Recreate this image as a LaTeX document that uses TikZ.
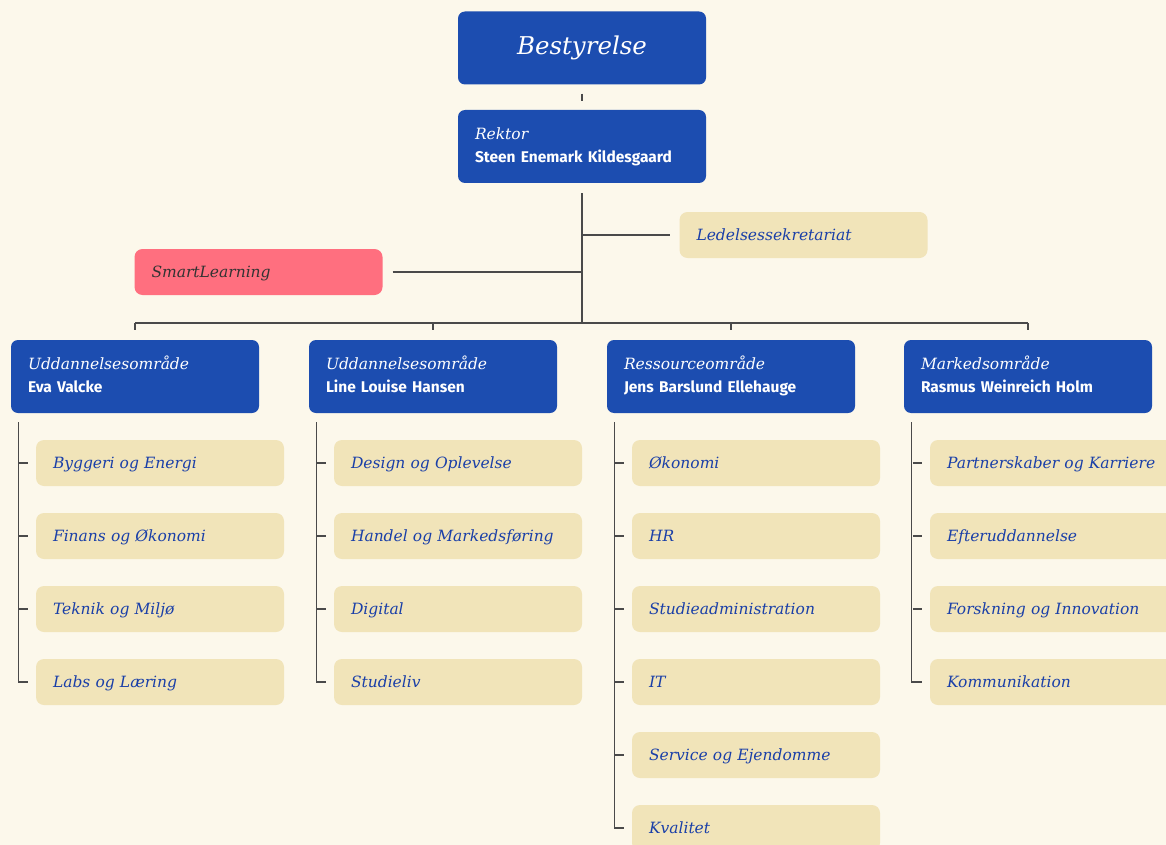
\documentclass[tikz,border=0pt]{standalone}
\usepackage{fontspec}
\setmainfont{DejaVu Serif}
\newfontfamily\namefont{Fira Sans}
\definecolor{bgC}{HTML}{FCF8EB}
\definecolor{blueC}{HTML}{1C4DB0}
\definecolor{tanC}{HTML}{F1E4B9}
\definecolor{pinkC}{HTML}{FF6F7F}
\definecolor{txtB}{HTML}{1A3FA8}
\definecolor{lineC}{HTML}{4A4A4A}
\tikzset{
  bluebox/.style={fill=blueC, rounded corners=7pt, minimum width=248pt, minimum height=73pt,
    text width=214pt, inner xsep=17pt, inner ysep=0pt, align=left, text=white,
    font=\fontsize{15.5}{23.5}\selectfont},
  tanbox/.style={fill=tanC, rounded corners=8pt, minimum width=248pt, minimum height=46pt,
    text width=214pt, inner xsep=17pt, inner ysep=0pt, align=left, text=txtB,
    text height=11pt, text depth=0pt,
    font=\fontsize{15.5}{18}\selectfont\itshape},
  pinkbox/.style={tanbox, fill=pinkC, text=black!80},
  conn/.style={draw=lineC, line width=1.1pt},
}
\newcommand{\twol}[2]{\strut{\itshape #1}\\\strut{\namefont\bfseries\fontsize{15.5}{23.5}\selectfont #2}}
\begin{document}
\begin{tikzpicture}[x=1pt,y=-1pt]
\fill[bgC] (0,0) rectangle (1166,845);
\useasboundingbox (0,0) rectangle (1166,845);

\node[bluebox, align=center, text width=214pt, font=\fontsize{24.5}{28}\selectfont\itshape] (best) at (582,48) {Bestyrelse};
\node[bluebox] (rek) at (582,146.5) {\twol{Rektor}{Steen Enemark Kildesgaard}};
\node[tanbox] (led) at (803.5,235) {Ledelsessekretariat};
\node[pinkbox] (smart) at (258.5,272) {SmartLearning};

\node[bluebox] (a1) at (135,376.5) {\twol{Uddannelsesområde}{Eva Valcke}};
\node[bluebox] (a2) at (433,376.5) {\twol{Uddannelsesområde}{Line Louise Hansen}};
\node[bluebox] (a3) at (731,376.5) {\twol{Ressourceområde}{Jens Barslund Ellehauge}};
\node[bluebox] (a4) at (1028,376.5) {\twol{Markedsområde}{Rasmus Weinreich Holm}};

\coordinate (hub) at (582,323);
\coordinate (bl) at (135,323);
\coordinate (br) at (1028,323);

% column 1
\node[tanbox] (b1) at (160,463) {Byggeri og Energi};
\node[tanbox] (b2) at (160,536) {Finans og Økonomi};
\node[tanbox] (b3) at (160,609) {Teknik og Miljø};
\node[tanbox] (b4) at (160,682) {Labs og Læring};
% column 2
\node[tanbox] (c1) at (458,463) {Design og Oplevelse};
\node[tanbox] (c2) at (458,536) {Handel og Markedsføring};
\node[tanbox] (c3) at (458,609) {Digital};
\node[tanbox] (c4) at (458,682) {Studieliv};
% column 3
\node[tanbox] (d1) at (756,463) {Økonomi};
\node[tanbox] (d2) at (756,536) {HR};
\node[tanbox] (d3) at (756,609) {Studieadministration};
\node[tanbox] (d4) at (756,682) {IT};
\node[tanbox] (d5) at (756,755) {Service og Ejendomme};
\node[tanbox] (d6) at (756,828) {Kvalitet};
% column 4
\node[tanbox] (e1) at (1054,463) {Partnerskaber og Karriere};
\node[tanbox] (e2) at (1054,536) {Efteruddannelse};
\node[tanbox] (e3) at (1054,609) {Forskning og Innovation};
\node[tanbox] (e4) at (1054,682) {Kommunikation};

% connectors
\draw[conn] ([yshift=-9pt]best.south) -- ([yshift=9pt]rek.north);
\draw[conn] ([yshift=-10pt]rek.south) -- (hub);
\draw[conn] (rek.south |- led.west) -- ([xshift=-9pt]led.west);
\draw[conn] ([xshift=10pt]smart.east) -- (rek.south |- smart.east);
\draw[conn] (bl) -- (br);
\foreach \a in {a1,a2,a3,a4}
  \draw[conn] (\a.north |- hub) -- ([yshift=10pt]\a.north);

\draw[conn] ([xshift=8pt,yshift=-9pt]a1.south west) |- ([xshift=-8pt]b4.west);
\foreach \b in {b1,b2,b3} \draw[conn] ([xshift=-17pt]\b.west) -- ([xshift=-8pt]\b.west);
\draw[conn] ([xshift=8pt,yshift=-9pt]a2.south west) |- ([xshift=-8pt]c4.west);
\foreach \b in {c1,c2,c3} \draw[conn] ([xshift=-17pt]\b.west) -- ([xshift=-8pt]\b.west);
\draw[conn] ([xshift=8pt,yshift=-9pt]a3.south west) |- ([xshift=-8pt]d6.west);
\foreach \b in {d1,d2,d3,d4,d5} \draw[conn] ([xshift=-17pt]\b.west) -- ([xshift=-8pt]\b.west);
\draw[conn] ([xshift=8pt,yshift=-9pt]a4.south west) |- ([xshift=-8pt]e4.west);
\foreach \b in {e1,e2,e3} \draw[conn] ([xshift=-17pt]\b.west) -- ([xshift=-8pt]\b.west);
\end{tikzpicture}
\end{document}
